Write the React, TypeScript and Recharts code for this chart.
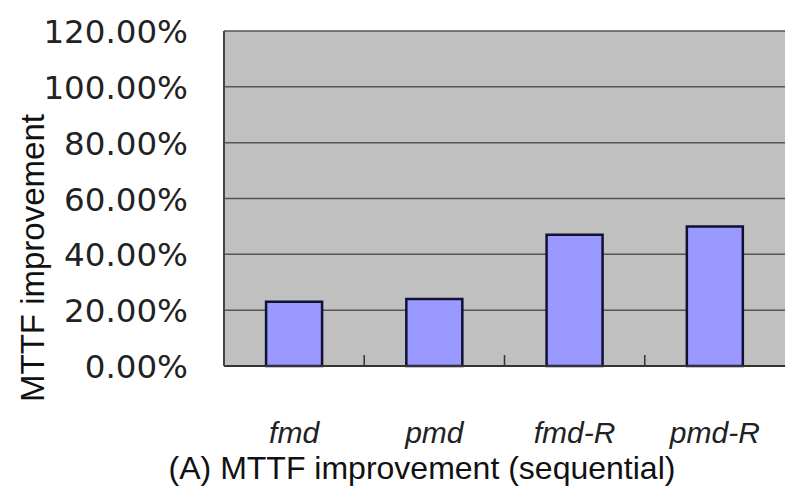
import React from "react";
import {
  BarChart,
  Bar,
  XAxis,
  YAxis,
  CartesianGrid,
  Label,
} from "recharts";

const categories = ["fmd", "pmd", "fmd-R", "pmd-R"];
const improvement = [23, 24, 47, 50];
const yTicks = [0, 20, 40, 60, 80, 100, 120];

const data = categories.map((name, i) => ({ name, value: improvement[i] }));

const W = 785;
const H = 489;
const PLOT_LEFT = 224;
const PLOT_TOP = 31;
const PLOT_BOTTOM = 366;
const BAND = (W - PLOT_LEFT) / categories.length;

function YTick(props: any) {
  const { x, y, payload } = props;
  return (
    <text
      x={x}
      y={y}
      dy={12}
      textAnchor="end"
      fontFamily="'DejaVu Sans', Verdana, sans-serif"
      fontSize={32.5}
      fill="#222"
    >
      {`${Number(payload.value).toFixed(2)}%`}
    </text>
  );
}

function XTick(props: any) {
  const { x, y, payload, index } = props;
  const left = x - BAND / 2;
  return (
    <g>
      {index > 0 && (
        <line
          x1={left}
          x2={left}
          y1={PLOT_BOTTOM - 11}
          y2={PLOT_BOTTOM}
          stroke="#333"
          strokeWidth={1.5}
        />
      )}
      <text
        x={x}
        y={y + 77}
        textAnchor="middle"
        fontFamily="'Liberation Sans', Arial, sans-serif"
        fontStyle="italic"
        fontSize={30}
        fill="#222"
      >
        {payload.value}
      </text>
    </g>
  );
}

export default function App() {
  return (
    <div
      style={{
        position: "absolute",
        left: 0,
        top: 0,
        width: W,
        height: H,
        background: "#fff",
        overflow: "hidden",
      }}
    >
      <BarChart
        width={W}
        height={H}
        data={data}
        margin={{ top: PLOT_TOP, right: 0, left: 0, bottom: 0 }}
        barCategoryGap="30%"
      >
        <CartesianGrid
          vertical={false}
          fill="#C0C0C0"
          stroke="#555"
          strokeWidth={1.5}
        />
        <XAxis
          dataKey="name"
          height={H - PLOT_BOTTOM}
          tickLine={false}
          tickSize={0}
          tickMargin={0}
          axisLine={{ stroke: "#333", strokeWidth: 2 }}
          tick={<XTick />}
          interval={0}
        >
          <Label
            content={() => (
              <text
                x={422}
                y={479}
                textAnchor="middle"
                fontFamily="'Liberation Sans', Arial, sans-serif"
                fontSize={32}
                fill="#111"
              >
                (A) MTTF improvement (sequential)
              </text>
            )}
          />
        </XAxis>
        <YAxis
          width={PLOT_LEFT}
          domain={[0, 120]}
          ticks={yTicks}
          tickLine={false}
          tickSize={0}
          tickMargin={36}
          axisLine={{ stroke: "#444", strokeWidth: 2 }}
          tick={<YTick />}
          interval={0}
        >
          <Label
            content={() => (
              <text
                x={44}
                y={258}
                transform="rotate(-90 44 258)"
                textAnchor="middle"
                fontFamily="'Liberation Sans', Arial, sans-serif"
                fontSize={33}
                fill="#111"
              >
                MTTF improvement
              </text>
            )}
          />
        </YAxis>
        <Bar
          dataKey="value"
          fill="#9999FF"
          stroke="#111133"
          strokeWidth={2.5}
          isAnimationActive={false}
        />
      </BarChart>
    </div>
  );
}
